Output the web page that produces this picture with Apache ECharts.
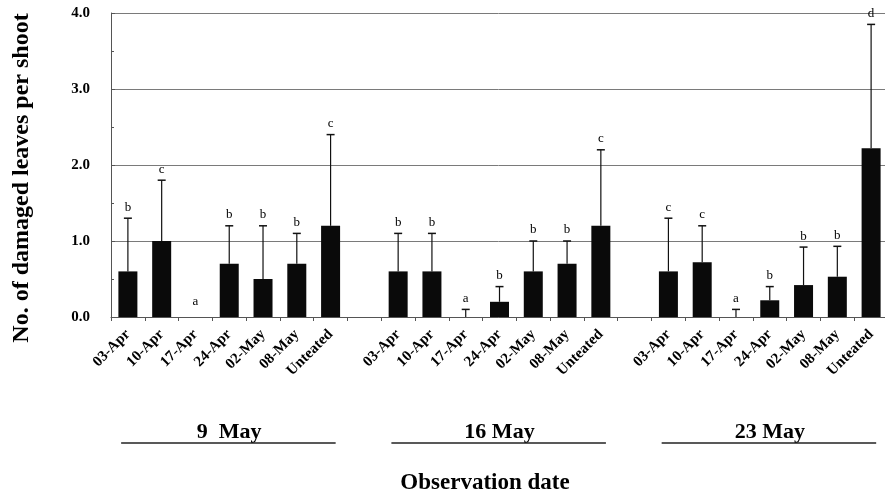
<!DOCTYPE html>
<html><head><meta charset="utf-8">
<script src="https://cdn.jsdelivr.net/npm/echarts@6/dist/echarts.min.js"></script>
<style>html,body{margin:0;padding:0;background:#fff}#c{width:885px;height:495px}</style>
</head><body><div id="c"></div>
<script>
const treatments = ['03-Apr','10-Apr','17-Apr','24-Apr','02-May','08-May','Unteated'];
const groupNames = ['9  May','16 May','23 May'];
const means9  = [0.6, 1.0, 0, 0.7, 0.5, 0.7, 1.2];
const errs9   = [0.7, 0.8, 0, 0.5, 0.7, 0.4, 1.2];
const letters9 = ['b','c','a','b','b','b','c'];
const means16 = [0.6, 0.6, 0, 0.2, 0.6, 0.7, 1.2];
const errs16  = [0.5, 0.5, 0.1, 0.2, 0.4, 0.3, 1.0];
const letters16 = ['b','b','a','b','b','b','c'];
const means23 = [0.6, 0.72, 0, 0.22, 0.42, 0.53, 2.22];
const errs23  = [0.7, 0.48, 0.1, 0.18, 0.5, 0.4, 1.63];
const letters23 = ['c','c','a','b','b','b','d'];
const yTicks = [0, 1, 2, 3, 4];

const groupsMeans = [means9, means16, means23];
const groupsErrs = [errs9, errs16, errs23];
const groupsLetters = [letters9, letters16, letters23];

const cats = [], vals = [], errData = [];
const groupRanges = [];
groupsMeans.forEach((g, gi) => {
  if (gi > 0) { cats.push(''); vals.push(null); }
  const start = cats.length;
  g.forEach((v, i) => {
    const idx = cats.length;
    cats.push(treatments[i]);
    vals.push(v);
    errData.push([idx, v, groupsErrs[gi][i], groupsLetters[gi][i]]);
  });
  groupRanges.push([start, cats.length - 1]);
});

const FONT = '"Liberation Serif", "Times New Roman", serif';
const chart = echarts.init(document.getElementById('c'), null, {renderer: 'canvas'});
chart.setOption({
  animation: false,
  grid: {left: 111, right: -3, top: 13, bottom: 178, outerBoundsMode: 'none', containLabel: false},
  xAxis: {
    type: 'category', data: cats,
    axisLine: {lineStyle: {color: '#555', width: 1}},
    axisTick: {show: true, length: 4, lineStyle: {color: '#555'}},
    axisLabel: {rotate: 45, interval: 0, margin: 15, fontFamily: FONT, fontWeight: 'bold', fontSize: 15, color: '#000'}
  },
  yAxis: {
    type: 'value', min: 0, max: 4, interval: 1,
    axisLine: {show: true, lineStyle: {color: '#555'}},
    axisTick: {show: true, inside: true, length: 4, lineStyle: {color: '#555'}},
    minorTick: {show: true, splitNumber: 2, length: 3, lineStyle: {color: '#555'}},
    splitLine: {show: true, lineStyle: {color: '#7a7a7a', width: 1}},
    axisLabel: {margin: 21, fontFamily: FONT, fontWeight: 'bold', fontSize: 15, color: '#000',
      formatter: v => yTicks.includes(v) ? v.toFixed(1) : ''}
  },
  series: [
    {type: 'bar', data: vals, barWidth: 19, itemStyle: {color: '#0a0a0a'}},
    {type: 'custom', data: errData, z: 5,
      renderItem: function (params, api) {
        const idx = api.value(0), m = api.value(1), e = api.value(2), letter = errData[params.dataIndex][3];
        const base = api.coord([idx, m]);
        const top = api.coord([idx, m + e]);
        const children = [];
        if (e > 0) {
          children.push({type: 'line', shape: {x1: base[0], y1: base[1], x2: top[0], y2: top[1]}, style: {stroke: '#111', lineWidth: 1.2}});
          children.push({type: 'line', shape: {x1: top[0] - 4, y1: top[1], x2: top[0] + 4, y2: top[1]}, style: {stroke: '#111', lineWidth: 1.5}});
        }
        const ly = e > 0 ? top[1] - 11 : top[1] - 15;
        children.push({type: 'text', style: {text: letter, x: top[0], y: ly, align: 'center', verticalAlign: 'middle', font: '13px ' + FONT, fill: '#000'}});
        return {type: 'group', children: children};
      }
    }
  ]
});

const gfx = [];
groupRanges.forEach((r, gi) => {
  const x0 = chart.convertToPixel({xAxisIndex: 0}, r[0]);
  const x1 = chart.convertToPixel({xAxisIndex: 0}, r[1]);
  const cw = chart.convertToPixel({xAxisIndex: 0}, 1) - chart.convertToPixel({xAxisIndex: 0}, 0);
  const cx = (x0 + x1) / 2;
  gfx.push({type: 'text', x: cx, y: 432, style: {text: groupNames[gi], align: 'center', verticalAlign: 'middle', font: 'bold 22px ' + FONT, fill: '#000'}});
  gfx.push({type: 'line', shape: {x1: x0 - cw * 0.2, y1: 443, x2: x1 + cw * 0.15, y2: 443}, style: {stroke: '#222', lineWidth: 1.3}});
});
gfx.push({type: 'text', x: 485, y: 483, style: {text: 'Observation date', align: 'center', verticalAlign: 'middle', font: 'bold 23px ' + FONT, fill: '#000'}});
gfx.push({type: 'text', x: 22, y: 178, rotation: Math.PI / 2, style: {text: 'No. of damaged leaves per shoot', align: 'center', verticalAlign: 'middle', font: 'bold 24px ' + FONT, fill: '#000'}});
chart.setOption({graphic: gfx});
</script></body></html>
